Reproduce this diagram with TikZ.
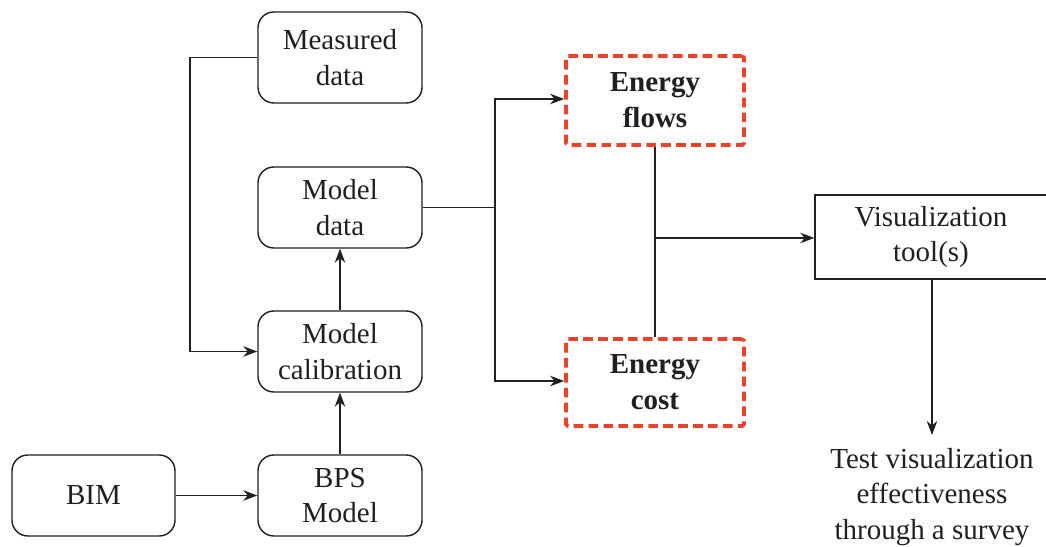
\documentclass[tikz,border=0pt]{standalone}
\usepackage{fontspec}
\setmainfont{Liberation Serif}
\usetikzlibrary{arrows.meta}
\definecolor{ink}{HTML}{231F20}
\definecolor{dred}{HTML}{EE4129}
\begin{document}
\begin{tikzpicture}[x=0.02cm,y=-0.02cm,
  every node/.style={text=ink, font=\fontsize{16.5pt}{20.4pt}\selectfont, align=center, inner sep=0pt},
  rbox/.style={draw=ink, line width=0.8pt, rounded corners=9pt},
  sbox/.style={draw=ink, line width=0.8pt},
  ebox/.style={draw=dred, line width=2.1pt, dash pattern=on 5.5pt off 3pt, rounded corners=1pt, font=\fontsize{16.5pt}{20.4pt}\selectfont\bfseries},
  conn/.style={draw=ink, line width=0.7pt},
  arr/.style={conn, -{Stealth[length=8pt,width=6pt]}}
]
\useasboundingbox (0,0) rectangle (1046,547);
\node[rbox, minimum width=164*0.02cm, minimum height=91*0.02cm] (meas) at (340,57.5) {Measured\\data};
\node[rbox, minimum width=164*0.02cm, minimum height=81*0.02cm] (mdata) at (340,207.5) {Model\\data};
\node[rbox, minimum width=164*0.02cm, minimum height=81*0.02cm] (calib) at (340,351.5) {Model\\calibration};
\node[rbox, minimum width=164*0.02cm, minimum height=81*0.02cm] (bps) at (340,495.5) {BPS\\Model};
\node[rbox, minimum width=163*0.02cm, minimum height=81*0.02cm] (bim) at (93.5,495.5) {BIM};
\node[ebox, minimum width=178*0.02cm, minimum height=89*0.02cm] (flows) at (655,100.5) {Energy\\flows};
\node[ebox, minimum width=178*0.02cm, minimum height=87*0.02cm] (cost) at (655,382.5) {Energy\\cost};
\node[sbox, minimum width=232*0.02cm, minimum height=84*0.02cm] (vis) at (931,237) {Visualization\\tool(s)};
\node (test) at (932,497) {Test visualization\\effectiveness\\through a survey};
\coordinate (j1) at (190,57.5);
\coordinate (j2) at (190,351.5);
\coordinate (j3) at (495,207.5);
\coordinate (j4) at (495,99);
\coordinate (j5) at (495,381);
\coordinate (j6) at (655,238);
\draw[arr] (meas.west) -- (j1) -- (j2) -- (calib.west);
\draw[arr] (calib.north) -- (mdata.south);
\draw[arr] (bps.north) -- (calib.south);
\draw[arr] (bim.east) -- (bps.west);
\draw[conn] (mdata.east) -- (j3);
\draw[arr] (j3) -- (j4) -- (flows.west |- j4);
\draw[arr] (j3) -- (j5) -- (cost.west |- j5);
\draw[conn] (flows.south) -- (cost.north);
\draw[arr] (j6) -- (vis.west |- j6);
\draw[arr] (vis.south -| 932,0) -- (932,435);
\end{tikzpicture}
\end{document}
